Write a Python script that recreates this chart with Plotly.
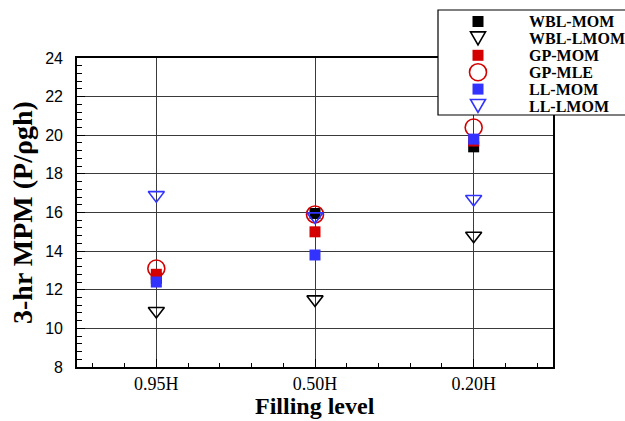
import plotly.graph_objects as go

# Filling levels and the 3-hr most probable maxima for each fitted distribution
categories = ["0.95H", "0.50H", "0.20H"]

wbl_mom = [12.6, 15.95, 19.4]
wbl_lmom = [10.9, 11.5, 14.8]
gp_mom = [12.8, 15.0, 19.7]
gp_mle = [13.1, 15.9, 20.4]
ll_mom = [12.4, 13.8, 19.8]
ll_lmom = [16.9, 15.8, 16.7]

y_ticks = [8, 10, 12, 14, 16, 18, 20, 22, 24]

RED = "#d40000"
BLUE = "#3333ff"
BLACK = "#000000"
SERIF = "Liberation Serif, Times New Roman, serif"
SANS = "Liberation Sans, Arial, sans-serif"

W, H = 625, 421
L, R, T, B = 77, 553, 58, 367  # plot area in pixels

x_pos = list(range(1, len(categories) + 1))

series = [
    ("WBL-MOM", wbl_mom, "square", BLACK, 11, 0),
    ("WBL-LMOM", wbl_lmom, "triangle-down-open", BLACK, 14, 1.6),
    ("GP-MOM", gp_mom, "square", RED, 11, 0),
    ("GP-MLE", gp_mle, "circle-open", RED, 17, 1.6),
    ("LL-MOM", ll_mom, "square", BLUE, 11, 0),
    ("LL-LMOM", ll_lmom, "triangle-down-open", BLUE, 14, 1.6),
]

fig = go.Figure()
for name, vals, sym, col, size, lw in series:
    fig.add_trace(go.Scatter(
        x=x_pos, y=vals, mode="markers", name=name, showlegend=False,
        marker=dict(symbol=sym, size=size, color=col,
                    line=dict(color=col, width=lw)),
        cliponaxis=False,
    ))


def xp(px):
    return (px - L) / (R - L)


def yp(py):
    return (B - py) / (B - T)


# Legend panel drawn by hand
shapes = [dict(type="rect", xref="paper", yref="paper",
               x0=xp(438), x1=xp(700), y0=yp(10), y1=yp(115),
               line=dict(color="black", width=1.2), fillcolor="white",
               layer="above")]
annotations = []
row0, step, mx, tx = 21.5, 16.9, 478, 527
for i, (name, vals, sym, col, size, lw) in enumerate(series):
    cy = row0 + step * i
    if sym == "square":
        h = 5.5
        shapes.append(dict(type="rect", xref="paper", yref="paper",
                           x0=xp(mx - h), x1=xp(mx + h), y0=yp(cy + h), y1=yp(cy - h),
                           fillcolor=col, line=dict(width=0), layer="above"))
    elif sym == "circle-open":
        r = 8.5
        shapes.append(dict(type="circle", xref="paper", yref="paper",
                           x0=xp(mx - r), x1=xp(mx + r), y0=yp(cy + r), y1=yp(cy - r),
                           line=dict(color=col, width=1.6), layer="above"))
    else:
        hw, hh = 7.5, 6.5
        x0, x1 = xp(mx - hw), xp(mx + hw)
        path = "M {a},{b} L {c},{b} L {d},{e} Z".format(
            a=x0, b=yp(cy - hh), c=x1, d=xp(mx), e=yp(cy + hh))
        shapes.append(dict(type="path", xref="paper", yref="paper", path=path,
                           line=dict(color=col, width=1.6), layer="above"))
    annotations.append(dict(
        x=xp(tx), y=yp(cy), xref="paper", yref="paper", text="<b>%s</b>" % name,
        showarrow=False, xanchor="left", yanchor="middle",
        font=dict(family=SERIF, size=16, color="black"),
    ))

# Axis titles
annotations.append(dict(
    x=xp(23), y=yp(213), xref="paper", yref="paper",
    text="<b>3-hr MPM (P/ρgh)</b>", textangle=-90, showarrow=False,
    xanchor="center", yanchor="middle",
    font=dict(family=SERIF, size=28, color="black"),
))
annotations.append(dict(
    x=xp(315), y=yp(406), xref="paper", yref="paper",
    text="<b>Filling level</b>", showarrow=False,
    xanchor="center", yanchor="middle",
    font=dict(family=SERIF, size=24, color="black"),
))

fig.update_layout(
    width=W, height=H,
    margin=dict(l=L, r=W - R, t=T, b=H - B, pad=0),
    paper_bgcolor="white", plot_bgcolor="white",
    shapes=shapes, annotations=annotations,
    xaxis=dict(
        range=[0.5, len(categories) + 0.5], tickmode="array",
        tickvals=x_pos, ticktext=categories,
        ticks="inside", ticklen=8, tickcolor="black", tickwidth=1,
        showgrid=True, gridcolor="#3a3a3a", gridwidth=1,
        showline=True, linecolor="black", linewidth=1.6, mirror=True,
        zeroline=False,
        tickfont=dict(family=SERIF, size=18, color="black"),
        ticklabelstandoff=0,
        minor=dict(tickmode="linear", tick0=0, dtick=0.2, ticks="inside",
                   ticklen=4, tickcolor="black", showgrid=False),
    ),
    yaxis=dict(
        range=[y_ticks[0], y_ticks[-1]], tickmode="array", tickvals=y_ticks,
        ticks="inside", ticklen=8, tickcolor="black", tickwidth=1,
        showgrid=True, gridcolor="#3a3a3a", gridwidth=1,
        showline=True, linecolor="black", linewidth=1.6, mirror=True,
        zeroline=False,
        tickfont=dict(family=SANS, size=16, color="black"),
        ticklabelstandoff=9,
        minor=dict(tickmode="linear", tick0=8, dtick=0.4, ticks="inside",
                   ticklen=5, tickcolor="black", showgrid=False),
    ),
)

fig.write_html("out.html")
